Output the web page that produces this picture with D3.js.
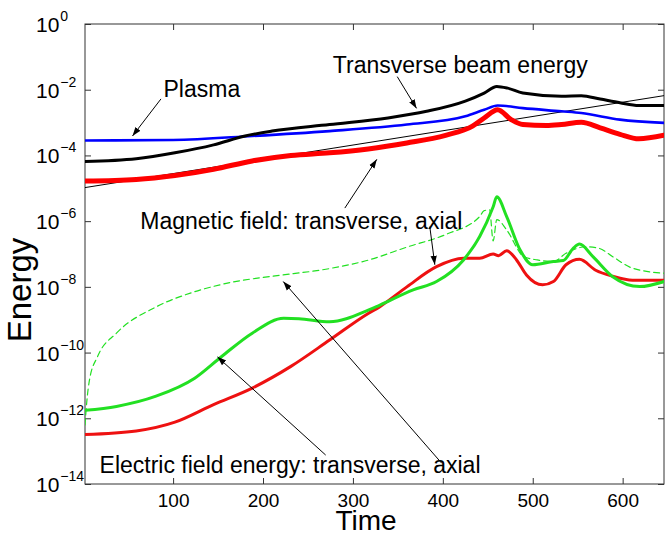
<!DOCTYPE html>
<html>
<head>
<meta charset="utf-8">
<script src="https://cdn.jsdelivr.net/npm/d3@7"></script>
<style>
  html, body { margin: 0; padding: 0; background: #fff; }
  svg { display: block; }
  text { font-family: "Liberation Sans", Arial, Helvetica, sans-serif; fill: #000; }
</style>
</head>
<body>
<svg id="chart" width="665" height="537"></svg>
<script>
// ---------------- data ----------------
const xTicks = [100, 200, 300, 400, 500, 600];
const yTickExps = [0, -2, -4, -6, -8, -10, -12, -14];

// Plasma energy (blue)
const plasmaT = [2, 100, 188, 274, 360, 425, 446, 461, 489, 532, 554, 597, 646];
const plasmaE = [2.85e-4, 2.95e-4, 3.9e-4, 5.5e-4, 8.7e-4, 1.55e-3, 2.45e-3, 3.3e-3, 2.75e-3, 2.2e-3, 1.95e-3, 1.23e-3, 9.8e-4];

// Transverse beam energy (black)
const beamT = [2, 59, 102, 145, 180, 210, 274, 339, 382, 425, 446, 460, 472, 489, 532, 554, 575, 597, 618, 646];
const beamE = [6.5e-5, 7.9e-5, 1.2e-4, 2.1e-4, 3.9e-4, 5.5e-4, 8.7e-4, 1.38e-3, 2.2e-3, 4.5e-3, 7.9e-3, 1.26e-2, 1.12e-2, 7.9e-3, 6.3e-3, 6.6e-3, 5.2e-3, 4.0e-3, 3.3e-3, 3.3e-3];

// Transverse magnetic field energy (thick red)
const magTransT = [2, 59, 102, 145, 188, 231, 274, 317, 360, 403, 433, 446, 461, 476, 489, 515, 532, 554, 575, 597, 618, 646];
const magTransE = [1.66e-5, 1.86e-5, 2.45e-5, 3.8e-5, 6.8e-5, 1.0e-4, 1.2e-4, 1.58e-4, 2.4e-4, 4.1e-4, 7.8e-4, 1.38e-3, 2.45e-3, 1.23e-3, 8.7e-4, 8.1e-4, 8.7e-4, 1.02e-3, 6.9e-4, 4.4e-4, 3.2e-4, 4.1e-4];

// Exponential growth reference (thin black)
const fitT = [2, 646];
const fitE = [1.05e-5, 6.6e-3];

// Transverse electric field energy (green solid)
const elecTransT = [2, 37, 81, 124, 154, 188, 223, 240, 274, 317, 330, 367, 393, 423, 441, 456, 460, 471, 486, 500, 523, 534, 545, 552, 567, 589, 619, 646];
const elecTransE = [1.74e-12, 2.3e-12, 4.7e-12, 1.66e-11, 7.6e-11, 3.9e-10, 1.1e-9, 1.07e-9, 8.7e-10, 1.95e-9, 2.8e-9, 8.1e-9, 1.45e-8, 6.6e-8, 3.4e-7, 2.75e-6, 5.5e-6, 1.38e-6, 1.32e-7, 4.7e-8, 5.9e-8, 6.3e-8, 1.48e-7, 2.0e-7, 8.3e-8, 2.04e-8, 1.02e-8, 1.45e-8];

// Axial magnetic field energy (thin red)
const magAxT = [2, 59, 102, 145, 188, 231, 274, 317, 330, 360, 393, 423, 441, 456, 462, 471, 482, 493, 511, 523, 537, 552, 570, 589, 611, 646];
const magAxE = [3.2e-13, 4.1e-13, 7.6e-13, 2.6e-12, 8.3e-12, 3.8e-11, 2.4e-10, 1.55e-9, 2.5e-9, 1.0e-8, 4.1e-8, 7.4e-8, 7.4e-8, 1.0e-7, 8.9e-8, 1.26e-7, 6.6e-8, 2.3e-8, 1.15e-8, 1.45e-8, 4.7e-8, 6.9e-8, 3.2e-8, 2.1e-8, 1.6e-8, 1.6e-8];

// Axial electric field energy (green dashed)
const elecAxT = [2, 4, 7, 16, 37, 81, 124, 167, 210, 274, 317, 360, 404, 441, 446, 452, 456, 460, 471, 490, 505, 523, 537, 559, 574, 589, 611, 646];
const elecAxE = [6.3e-13, 3.2e-12, 1.48e-11, 7.6e-11, 3.9e-10, 2.45e-9, 7.1e-9, 1.41e-8, 2.1e-8, 3.6e-8, 6.5e-8, 1.62e-7, 4.0e-7, 1.38e-6, 2.1e-6, 2.2e-6, 2.5e-7, 1.12e-6, 5.4e-7, 8.3e-8, 6.6e-8, 5.9e-8, 1.05e-7, 1.66e-7, 1.48e-7, 8.3e-8, 3.7e-8, 2.6e-8];

// Annotations (data coordinates: time, energy)
const labels = [
  { text: "Plasma", t: 89.3, e: 6.0e-3 },
  { text: "Transverse beam energy", t: 277.7, e: 3.3e-2 },
  { text: "Magnetic field: transverse, axial", t: 63.5, e: 5.75e-7 },
  { text: "Electric field energy: transverse, axial", t: 18.2, e: 2.15e-14 }
];
const arrows = [
  { t0: 86.5, e0: 5.25e-3, t1: 54.8, e1: 3.9e-4 },
  { t0: 349.3, e0: 2.5e-2, t1: 370.8, e1: 2.7e-3 },
  { t0: 291, e0: 2.5e-6, t1: 326.6, e1: 7.6e-5 },
  { t0: 385.5, e0: 6.8e-7, t1: 391.1, e1: 4.7e-8 },
  { t0: 269.7, e0: 7.6e-14, t1: 149.3, e1: 7.4e-11 },
  { t0: 398.7, e0: 4.3e-14, t1: 222.5, e1: 1.45e-8 }
];

// ---------------- layout ----------------
const L = 85, R = 664, T = 24, B = 484;

const svg = d3.select("#chart");
const x = d3.scaleLinear().domain([2, 646]).range([L, R]);
const y = d3.scaleLog().domain([1e-14, 1]).range([B, T]);

const defs = svg.append("defs");
defs.append("clipPath").attr("id", "clip")
  .append("rect").attr("x", L).attr("y", T).attr("width", R - L).attr("height", B - T);
defs.append("marker")
  .attr("id", "arrowhead").attr("viewBox", "0 0 10 10")
  .attr("refX", 10).attr("refY", 5)
  .attr("markerWidth", 9).attr("markerHeight", 9)
  .attr("markerUnits", "userSpaceOnUse")
  .attr("orient", "auto")
  .append("path").attr("d", "M0,1.5 L10,5 L0,8.5 Z").attr("fill", "#000");

// ---------------- axes ----------------
const tickCol = "#333";
const bottomAxis = d3.axisBottom(x).tickValues(xTicks).tickSizeInner(-6).tickSizeOuter(0).tickPadding(10);
const topAxis = d3.axisTop(x).tickValues(xTicks).tickSizeInner(-6).tickSizeOuter(0).tickFormat(() => "");
const yVals = yTickExps.map(e => Math.pow(10, e));
const leftAxis = d3.axisLeft(y).tickValues(yVals).tickSizeInner(-6).tickSizeOuter(0).tickFormat(() => "");
const rightAxis = d3.axisRight(y).tickValues(yVals).tickSizeInner(-6).tickSizeOuter(0).tickFormat(() => "");

const gB = svg.append("g").attr("transform", `translate(0,${B})`).call(bottomAxis);
svg.append("g").attr("transform", `translate(0,${T})`).call(topAxis);
svg.append("g").attr("transform", `translate(${L},0)`).call(leftAxis);
svg.append("g").attr("transform", `translate(${R},0)`).call(rightAxis);
svg.selectAll(".domain").remove();
svg.selectAll(".tick line").attr("stroke", tickCol).attr("stroke-width", 1);
gB.selectAll(".tick text")
  .attr("font-size", 19).attr("font-family", "Liberation Sans, Arial, sans-serif")
  .attr("fill", "#000");

// y tick labels 10^n
const yl = svg.append("g");
yTickExps.forEach(e => {
  const yy = y(Math.pow(10, e));
  const t = yl.append("text").attr("x", 36).attr("y", yy + 8).attr("font-size", 21);
  t.append("tspan").text("10");
  t.append("tspan").attr("dy", -11).attr("dx", 1).attr("font-size", 14).text(e === 0 ? "0" : "\u2212" + Math.abs(e));
});

// frame
svg.append("rect").attr("x", L).attr("y", T).attr("width", R - L).attr("height", B - T)
  .attr("fill", "none").attr("stroke", tickCol).attr("stroke-width", 1);

// ---------------- series ----------------
const plot = svg.append("g").attr("clip-path", "url(#clip)");
function series(ts, es, color, width, dash, curve) {
  const pts = ts.map((t, i) => [t, es[i]]);
  const line = d3.line().x(d => x(d[0])).y(d => y(d[1])).curve(curve || d3.curveMonotoneX);
  plot.append("path").datum(pts)
    .attr("d", line).attr("fill", "none")
    .attr("stroke", color).attr("stroke-width", width)
    .attr("stroke-linejoin", "round").attr("stroke-linecap", "round")
    .attr("stroke-dasharray", dash || null);
}
series(elecAxT, elecAxE, "#22e022", 1.2, "6,4");
series(magAxT, magAxE, "#ee1111", 3);
series(elecTransT, elecTransE, "#22e022", 3);
series(fitT, fitE, "#000", 1, null, d3.curveLinear);
series(magTransT, magTransE, "#ff0000", 5);
series(plasmaT, plasmaE, "#0000ff", 2.6);
series(beamT, beamE, "#000", 3);

// ---------------- annotations ----------------
const ann = svg.append("g");
labels.forEach(l => {
  ann.append("text").attr("x", x(l.t)).attr("y", y(l.e)).attr("font-size", 23).text(l.text);
});
arrows.forEach(a => {
  ann.append("line")
    .attr("x1", x(a.t0)).attr("y1", y(a.e0))
    .attr("x2", x(a.t1)).attr("y2", y(a.e1))
    .attr("stroke", "#000").attr("stroke-width", 1)
    .attr("marker-end", "url(#arrowhead)");
});

// axis titles
svg.append("text").attr("x", 366).attr("y", 530)
  .attr("text-anchor", "middle").attr("font-size", 28).text("Time");
svg.append("text").attr("transform", `translate(31,290) rotate(-90)`)
  .attr("text-anchor", "middle").attr("font-size", 33).text("Energy");
</script>
</body>
</html>
